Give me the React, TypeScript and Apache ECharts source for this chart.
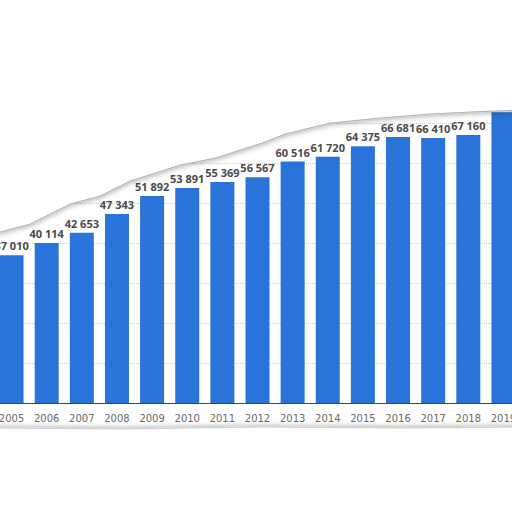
import { useEffect, useRef } from 'react';
import * as echarts from 'echarts';

const YEARS = ['2005', '2006', '2007', '2008', '2009', '2010', '2011', '2012', '2013', '2014', '2015', '2016', '2017', '2018', '2019'];
const VALUES = [37010, 40114, 42653, 47343, 51892, 53891, 55369, 56567, 60516, 61720, 64375, 66681, 66410, 67160, 72850];
// last bar's label is lost under the torn edge in the reference
const HIDDEN_LABELS = ['2019'];

// torn-paper edges (decoration only, page pixels)
const TOP_EDGE = [
  [0, 232], [30, 224], [70, 204], [100, 196], [130, 181], [180, 165], [215, 158],
  [240, 150], [262, 143], [285, 134], [330, 123], [380, 118], [430, 114], [470, 112], [520, 110],
];
const BOTTOM_EDGE = [[0, 428], [120, 429], [260, 427], [400, 428], [520, 427]];

const BAR_COLOR = '#2a74d9';
const LABEL_COLOR = '#4a4a4a';
const TICK_COLOR = '#6a6a6a';
const GRID_COLOR = '#cfcfcf';

// the reference is cropped: the plot runs past both page edges
const SHIFT = 6.4;
const CHART_W = 527;

const fmt = (v: number) => String(v).replace(/\B(?=(\d{3})+(?!\d))/g, ' ');

export default function App() {
  const ref = useRef<HTMLDivElement>(null);

  useEffect(() => {
    if (!ref.current) return;
    const chart = echarts.init(ref.current, undefined, { renderer: 'svg' });

    const edgeStyle = {
      fill: '#fff',
      stroke: '#b4b4b4',
      lineWidth: 1.2,
      shadowBlur: 5,
      shadowColor: 'rgba(0,0,0,0.3)',
    };

    chart.setOption({
      animation: false,
      backgroundColor: '#fff',
      grid: { left: 0, right: 0, top: 83.8, bottom: 109 },
      xAxis: {
        type: 'category',
        data: YEARS,
        axisLine: { lineStyle: { color: '#444', width: 1 } },
        axisTick: { show: false },
        axisLabel: { color: TICK_COLOR, fontSize: 10, fontFamily: 'DejaVu Sans', margin: 10 },
      },
      yAxis: {
        type: 'value',
        min: 0,
        max: 80000,
        interval: 10000,
        axisLabel: { show: false },
        axisLine: { show: false },
        axisTick: { show: false },
        splitLine: { lineStyle: { color: GRID_COLOR, type: 'dotted', width: 1 } },
      },
      series: [
        {
          type: 'bar',
          barWidth: 24,
          data: VALUES.map((v, i) => ({
            value: v,
            label: HIDDEN_LABELS.includes(YEARS[i]) ? { show: false } : undefined,
          })),
          itemStyle: { color: BAR_COLOR },
          label: {
            show: true,
            position: 'top',
            distance: 4,
            color: LABEL_COLOR,
            fontSize: 11,
            fontWeight: 'bold',
            fontFamily: 'Open Sans',
            formatter: (p: any) => fmt(p.value),
          },
        },
      ],
      graphic: [
        {
          type: 'group',
          x: SHIFT,
          z: 100,
          silent: true,
          children: [
            {
              type: 'polygon',
              z: 100,
              shape: { points: [...TOP_EDGE, [520, -10], [-10, -10], [-10, 232]] },
              style: { ...edgeStyle, shadowOffsetY: 1.5 },
            },
            {
              type: 'polygon',
              z: 100,
              shape: { points: [...BOTTOM_EDGE, [520, 520], [-10, 520], [-10, 428]] },
              style: { ...edgeStyle, stroke: '#d0d0d0', shadowOffsetY: -1 },
            },
          ],
        },
      ],
    });

    return () => chart.dispose();
  }, []);

  return (
    <div
      ref={ref}
      style={{ position: 'fixed', left: -SHIFT, top: 0, width: CHART_W, height: 512 }}
    />
  );
}
